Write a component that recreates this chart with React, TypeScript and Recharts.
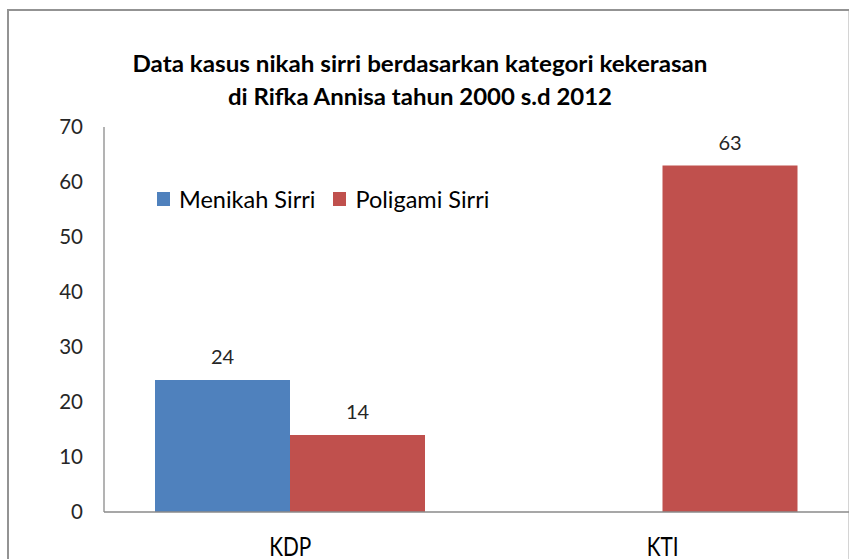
import React from "react";
import { BarChart, Bar, XAxis, YAxis, LabelList, Legend } from "recharts";

const categories = ["KDP", "KTI"];
const menikahSirri = [24, 0];
const poligamiSirri = [14, 63];
const yTicks = [0, 10, 20, 30, 40, 50, 60, 70];
const titleLines = [
  "Data kasus nikah sirri berdasarkan kategori kekerasan",
  "di Rifka Annisa tahun 2000 s.d 2012",
];

const data = categories.map((c, i) => ({
  name: c,
  menikah: menikahSirri[i],
  poligami: poligamiSirri[i],
}));

const FONT = "Lato, 'Open Sans', sans-serif";

const renderLegend = (props: any) => {
  const { payload } = props;
  return (
    <div style={{ display: "flex", alignItems: "center", fontFamily: FONT, fontSize: 23.5, color: "#000", lineHeight: "26px" }}>
      {payload.map((p: any, i: number) => (
        <div key={i} style={{ display: "flex", alignItems: "center", marginRight: 18 }}>
          <div style={{ width: 13, height: 14, background: p.color, marginRight: 9 }} />
          <span style={{ whiteSpace: "nowrap" }}>{p.value}</span>
        </div>
      ))}
    </div>
  );
};

const renderLabel = (props: any) => {
  const { x, y, width, value } = props;
  if (!value) return null;
  return (
    <text x={x + width / 2} y={y - 16} textAnchor="middle" fontFamily={FONT} fontSize={20} fill="#262626">
      {value}
    </text>
  );
};

const XTick = (props: any) => {
  const { x, y, payload } = props;
  return (
    <g transform={`translate(${x},${y + 43.5}) scale(0.8,1)`}>
      <text x={0} y={0} textAnchor="middle" fontFamily={FONT} fontSize={26} fill="#000">
        {payload.value}
      </text>
    </g>
  );
};

export default function App() {
  return (
    <div style={{ position: "fixed", left: 0, top: 0, width: 849, height: 559, overflow: "hidden", background: "#fff" }}>
      <div style={{ position: "absolute", left: 7, top: 9, width: 900, height: 600, border: "2px solid #939393", boxSizing: "border-box" }} />
      <div style={{ position: "absolute", left: 848, top: 11, width: 1, height: 548, background: "#d4d4d4" }} />
      <div style={{ position: "absolute", left: 0, top: 0 }}>
        <BarChart
          width={849}
          height={559}
          data={data}
          margin={{ top: 127, right: 0, bottom: 0, left: 0 }}
          barCategoryGap={51}
          barGap={0}
        >
          <XAxis
            dataKey="name"
            axisLine={{ stroke: "#8a8a8a", strokeWidth: 1.3 }}
            tickLine={false}
            tickSize={0}
            tickMargin={0}
            height={47}
            tick={<XTick />}
          />
          <YAxis
            domain={[0, 70]}
            ticks={yTicks}
            width={104}
            axisLine={{ stroke: "#8a8a8a", strokeWidth: 1.3 }}
            tickLine={false}
            tickSize={0}
            tickMargin={21}
            interval={0}
            tick={{ fontFamily: FONT, fontSize: 20.5, fill: "#262626" }}
          />
          <Legend
            verticalAlign="middle"
            align="center"
            layout="horizontal"
            content={renderLegend}
            wrapperStyle={{ position: "absolute", top: 186, left: 157, width: 420 }}
          />
          <Bar dataKey="menikah" name="Menikah Sirri" fill="#4F81BD" isAnimationActive={false}>
            <LabelList dataKey="menikah" content={renderLabel} />
          </Bar>
          <Bar dataKey="poligami" name="Poligami Sirri" fill="#C0504D" isAnimationActive={false}>
            <LabelList dataKey="poligami" content={renderLabel} />
          </Bar>
        </BarChart>
      </div>
      <svg width={849} height={140} style={{ position: "absolute", left: 0, top: 0, pointerEvents: "none" }}>
        <text x={420} y={72} textAnchor="middle" fontFamily={FONT} fontWeight="bold" fontSize={23} fill="#000" textLength={575} lengthAdjust="spacingAndGlyphs">
          {titleLines[0]}
        </text>
        <text x={420} y={105} textAnchor="middle" fontFamily={FONT} fontWeight="bold" fontSize={23} fill="#000" textLength={384} lengthAdjust="spacingAndGlyphs">
          {titleLines[1]}
        </text>
      </svg>
    </div>
  );
}
